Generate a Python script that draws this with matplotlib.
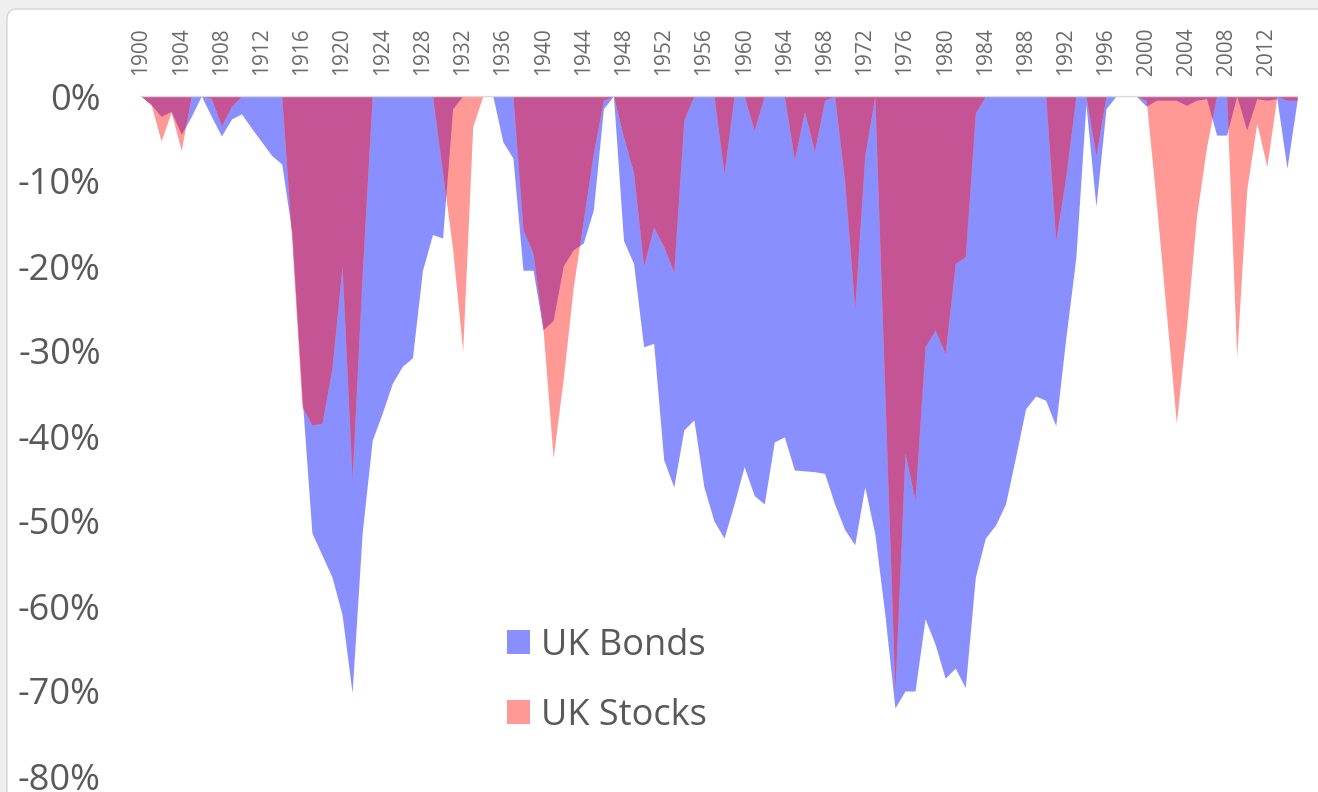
import numpy as np
import matplotlib
matplotlib.use("Agg")
import matplotlib.pyplot as plt
from matplotlib.patches import Patch, FancyBboxPatch
from matplotlib.transforms import IdentityTransform

# ---------------- data (real drawdowns, %) ----------------
years = list(range(1900, 2016))

uk_bonds = [
    0, -1.0, -2.4, -1.8, -4.5, -2.4, 0, -2.4, -4.7, -2.7,            # 1900s
    -2.1, -3.8, -5.4, -7.0, -8.0, -16.0, -35.0, -51.4, -54.0, -56.6,  # 1910s
    -61.0, -70.2, -51.4, -40.5, -37.3, -33.8, -31.8, -30.8, -20.5, -16.3,  # 1920s
    -16.7, -1.5, 0, 0, 0, 0, -5.4, -7.3, -20.5, -20.5,                # 1930s
    -27.5, -26.4, -20.0, -18.1, -17.3, -13.4, -1.5, 0, -17.0, -19.7,  # 1940s
    -29.5, -29.1, -42.8, -46.0, -39.3, -38.1, -46.0, -50.0, -52.0, -48.0,  # 1950s
    -43.6, -47.0, -48.0, -40.7, -40.1, -44.0, -44.1, -44.2, -44.4, -48.0,  # 1960s
    -51.0, -52.8, -46.0, -51.5, -61.0, -72.0, -70.0, -70.0, -61.5, -64.5,  # 1970s
    -68.5, -67.3, -69.6, -56.6, -52.0, -50.5, -48.0, -42.5, -36.8, -35.3,  # 1980s
    -35.8, -38.8, -28.5, -19.0, -1.0, -13.0, -1.5, 0, 0, 0,           # 1990s
    -1.2, -0.5, -0.5, -0.5, -1.1, -0.5, -0.3, -4.6, -4.6, 0,          # 2000s
    -4.0, -0.3, -0.5, -0.3, -8.5, -0.6,                               # 2010s
]

uk_stocks = [
    0, -1.0, -5.3, -1.9, -6.4, 0, 0, -0.3, -3.5, -1.2,
    0, 0, 0, 0, 0, -17.0, -36.5, -38.7, -38.5, -32.0,
    -20.0, -45.0, -21.0, 0, 0, 0, 0, 0, 0, 0,
    -9.0, -18.0, -30.0, -3.6, 0, 0, 0, 0, -15.7, -18.5,
    -27.5, -42.6, -33.3, -22.5, -14.6, -6.7, -0.5, 0, -4.8, -9.0,
    -20.0, -15.4, -17.7, -20.7, -2.8, 0, 0, 0, -9.1, 0,
    0, -4.0, 0, 0, 0, -7.5, -1.8, -6.5, -0.5, 0,
    -10.0, -25.0, -7.0, 0, -35.0, -70.0, -42.0, -47.5, -29.5, -27.5,
    -30.3, -19.7, -18.9, -2.0, 0, 0, 0, 0, 0, 0,
    0, -17.0, -9.5, 0, 0, -7.0, 0, 0, 0, 0,
    -0.5, -12.5, -25.5, -38.5, -27.3, -14.2, -6.0, 0, 0, -30.7,
    -11.0, -3.2, -8.3, 0, -0.5, -0.5,
]

series_names = ["UK Bonds", "UK Stocks"]
xtick_years = list(range(1900, 2013, 4))
ytick_values = [0, -10, -20, -30, -40, -50, -60, -70, -80]
ytick_labels = ["0%", "-10%", "-20%", "-30%", "-40%", "-50%", "-60%", "-70%", "-80%"]

# ---------------- style ----------------
BLUE = "#898FFF"
SALMON = "#FF9996"
PURPLE = "#C45494"
TEXT = "#595959"
FONT = "Open Sans"

W, H = 1318, 792
fig = plt.figure(figsize=(W / 100, H / 100), dpi=100, facecolor="#efefef")

# white chart area with a light border (screenshot frame)
bg = FancyBboxPatch((7, -30), W + 40, H - 9 + 30,
                    boxstyle="round,pad=0,rounding_size=10",
                    transform=IdentityTransform(), facecolor="white",
                    edgecolor="#d6d6d6", lw=1.0, zorder=-10)
fig.patches.append(bg)

ax = fig.add_axes([141 / W, 16 / H, 1156 / W, 680 / H])
ax.patch.set_alpha(0)

# dense grid so the overlap region follows the straight segments exactly
xs = np.linspace(years[0], years[-1], 4601)
b = np.interp(xs, years, uk_bonds)
s = np.interp(xs, years, uk_stocks)
both = np.maximum(b, s)

ax.fill_between(xs, b, 0, color=BLUE, lw=0)
ax.fill_between(xs, s, 0, color=SALMON, lw=0)
ax.fill_between(xs, both, 0, color=PURPLE, lw=0)

ax.set_xlim(years[0], years[-1])
ax.set_ylim(-80, 0)

ax.xaxis.tick_top()
ax.set_xticks(xtick_years)
ax.set_xticklabels([str(y) for y in xtick_years], rotation=90,
                   fontsize=15, color="#6a6a6a", family=FONT)
ax.tick_params(axis="x", length=0, pad=15)

ax.set_yticks(ytick_values)
ax.set_yticklabels(ytick_labels, fontsize=26, color=TEXT, family=FONT)
ax.tick_params(axis="y", length=0, pad=29)

for side in ("left", "right", "bottom"):
    ax.spines[side].set_visible(False)
ax.spines["top"].set_color("#d9d9d9")
ax.spines["top"].set_linewidth(1.0)

handles = [Patch(facecolor=BLUE, edgecolor="none", label=series_names[0]),
           Patch(facecolor=SALMON, edgecolor="none", label=series_names[1])]
leg = ax.legend(handles=handles, loc="upper left",
                bbox_to_anchor=(507 / W, 1 - 628 / H),
                bbox_transform=fig.transFigure, frameon=False,
                prop={"family": FONT, "size": 26},
                handlelength=0.65, handleheight=0.65, handletextpad=0.3,
                labelspacing=0.94, borderpad=0, borderaxespad=0)
for t in leg.get_texts():
    t.set_color(TEXT)

fig.savefig("out.png", dpi=100, facecolor=fig.get_facecolor())
